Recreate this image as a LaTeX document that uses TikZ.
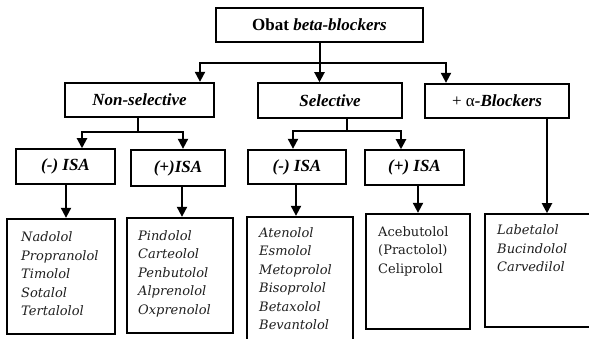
\documentclass[tikz,border=0pt]{standalone}
\usepackage{fontspec}
\setmainfont{Liberation Serif}
\newfontfamily\listfont{DejaVu Serif}
\usetikzlibrary{arrows.meta}
\begin{document}
\begin{tikzpicture}[x=1pt,y=-1pt,
  hbox/.style={draw,line width=1.5pt,inner sep=0pt,font=\fontsize{17}{19}\selectfont\bfseries\itshape},
  hthick/.style={hbox,line width=2.3pt},
  lbox/.style={draw,line width=2.3pt,inner sep=0pt},
  ltext/.style={anchor=north west,inner sep=0pt,align=left,text=black!88,font=\fontsize{13}{18.5}\selectfont\listfont\itshape},
  ln/.style={line width=2pt,line cap=rect},
  arr/.style={line width=2pt,-{Triangle[width=10pt,length=10pt]}}]
\useasboundingbox (0,0) rectangle (589,339);
% headings
\node[hbox,minimum width=207,minimum height=34] (top) at (319.5,25) {\upshape Obat \itshape beta-blockers};
\node[hthick,minimum width=149,minimum height=34] (nons) at (139.5,100) {Non-selective};
\node[hbox,minimum width=144,minimum height=35] (sel) at (330,100.5) {Selective};
\node[hthick,minimum width=144,minimum height=34] (alph) at (497,101) {\mdseries\upshape + α\bfseries\itshape -Blockers};
\node[hbox,minimum width=99,minimum height=35] (nisa) at (65.5,166.5) {(-) ISA};
\node[hthick,minimum width=94,minimum height=36] (pisa) at (178,168) {(+)ISA};
\node[hthick,minimum width=98,minimum height=34] (snisa) at (297,167) {(-) ISA};
\node[hbox,minimum width=99,minimum height=35] (spisa) at (414.5,167.5) {(+) ISA};
% bottom boxes
\node[lbox,minimum width=108,minimum height=115] (b1) at (61,276.5) {};
\node[lbox,minimum width=106,minimum height=115] (b2) at (180,275.5) {};
\node[lbox,minimum width=106,minimum height=125] (b3) at (300,279.5) {};
\node[lbox,minimum width=104,minimum height=115] (b4) at (418,271.5) {};
\node[lbox,line width=1.6pt,minimum width=107,minimum height=113] (b5) at (538.5,270.5) {};
% lists
\node[ltext] (t1) at (21,231.5) {Nadolol\\Propranolol\\Timolol\\Sotalol\\Tertalolol};
\node[ltext] (t2) at (138,230) {Pindolol\\Carteolol\\Penbutolol\\Alprenolol\\Oxprenolol};
\node[ltext] (t3) at (259,227) {Atenolol\\Esmolol\\Metoprolol\\Bisoprolol\\Betaxolol\\Bevantolol};
\node[ltext,font=\fontsize{13}{18.5}\selectfont\listfont\upshape] (t4) at (378,226) {Acebutolol\\(Practolol)\\Celiprolol};
\node[ltext] (t5) at (497,224.5) {Labetalol\\Bucindolol\\Carvedilol};
% connectors level 1
\coordinate (jl) at (200,63);
\coordinate (jr) at (446,63);
\draw[ln] (jl) -- (jr);
\draw[arr] (top.south) -- (top.south |- sel.north);
\draw[arr] (jl) -- (jl |- nons.north);
\draw[arr] (jr) -- (jr |- alph.north);
% non-selective
\coordinate (nm) at (138,132);
\coordinate (nl) at (82,132);
\coordinate (nr) at (183,132);
\draw[ln] (nm |- nons.south) -- (nm);
\draw[ln] (nl) -- (nr);
\draw[arr] (nl) -- (nl |- nisa.north);
\draw[arr] (nr) -- (nr |- pisa.north);
% selective
\coordinate (sm) at (347,131);
\coordinate (sl) at (293,131);
\coordinate (sr) at (401,131);
\draw[ln] (sm |- sel.south) -- (sm);
\draw[ln] (sl) -- (sr);
\draw[arr] (sl) -- (sl |- snisa.north);
\draw[arr] (sr) -- (sr |- spisa.north);
% alpha
\coordinate (ax) at (547,0);
\draw[arr] (ax |- alph.south) -- (ax |- b5.north);
% ISA to lists
\coordinate (x1) at (66,0);
\coordinate (x2) at (182,0);
\coordinate (x3) at (296,0);
\coordinate (x4) at (418,0);
\draw[arr] (x1 |- nisa.south) -- (x1 |- b1.north);
\draw[arr] (x2 |- pisa.south) -- (x2 |- b2.north);
\draw[arr] (x3 |- snisa.south) -- (x3 |- b3.north);
\draw[arr] (x4 |- spisa.south) -- (x4 |- b4.north);
\end{tikzpicture}
\end{document}
